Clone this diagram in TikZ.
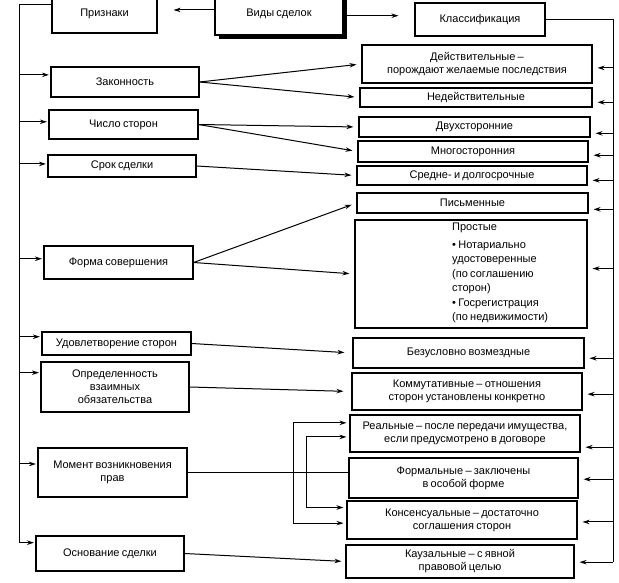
\documentclass[tikz,border=0pt]{standalone}
\usepackage{fontspec}
\setmainfont{Liberation Sans}[WordSpace=0.75]
\usetikzlibrary{arrows.meta,calc}
\begin{document}
\begin{tikzpicture}[x=1pt,y=-1pt,
  box/.style={draw, line width=1.1pt, inner sep=1pt, align=center,
    font=\fontsize{11}{13}\selectfont},
  txt/.style={inner sep=0pt, align=left, font=\fontsize{11}{14.5}\selectfont},
  ln/.style={line width=1pt},
  arr/.style={line width=1pt, -{Stealth[length=7pt,width=4.5pt]}, shorten >=5pt}]
\useasboundingbox (0,0) rectangle (619,583);

% top row
\node[box, minimum width=105pt, minimum height=39pt] (prizn) at (104.5,13.5) {Признаки};
\node[box, minimum width=128pt, minimum height=43pt] (vidy) at (279,13.5) {Виды сделок};
\node[box, minimum width=130pt, minimum height=33pt] (klass) at (480,19.5) {Классификация};
\draw[line width=3pt] ($(vidy.north east)+(1.5,5)$) -- ($(vidy.south east)+(1.5,1.5)$) -- ($(vidy.south west)+(5,1.5)$);

% left column
\node[box, minimum width=148pt, minimum height=30pt] (zak) at (125,82) {Законность};
\node[box, minimum width=149pt, minimum height=29pt] (chislo) at (123.5,124.5) {Число сторон};
\node[box, minimum width=148pt, minimum height=22pt] (srok) at (122,166) {Срок сделки};
\node[box, minimum width=149pt, minimum height=33pt] (forma) at (118.5,262.5) {Форма совершения};
\node[box, minimum width=149pt, minimum height=23pt] (udov) at (116.5,343.5) {Удовлетворение сторон};
\node[box, minimum width=148pt, minimum height=50pt] (opred) at (115,387) {Определенность\\взаимных\\обязательства};
\node[box, minimum width=149pt, minimum height=49pt] (moment) at (112.5,472.5) {Момент возникновения\\прав};
\node[box, minimum width=148pt, minimum height=35pt] (osnov) at (110,553.5) {Основание сделки};

% right column
\node[box, minimum width=230pt, minimum height=38pt] (deyst) at (477,64) {Действительные –\\порождают желаемые последствия};
\node[box, minimum width=232pt, minimum height=19pt] (nedeyst) at (476,97.5) {Недействительные};
\node[box, minimum width=231pt, minimum height=20pt] (dvuh) at (474.5,127) {Двухсторонние};
\node[box, minimum width=230pt, minimum height=21pt] (mnogo) at (473,151.5) {Многосторонния};
\node[box, minimum width=230pt, minimum height=19pt] (sredne) at (472,175.5) {Средне- и долгосрочные};
\node[box, minimum width=231pt, minimum height=20pt] (pism) at (472.5,203) {Письменные};
\node[box, minimum width=232pt, minimum height=108pt] (prost) at (471,274) {};
\node[txt, anchor=north west] (prosttxt) at (452,223) {Простые\\[3pt]• Нотариально\\удостоверенные\\(по соглашению\\сторон)\\• Госрегистрация\\(по недвижимости)};
\node[box, minimum width=231pt, minimum height=30pt] (bezusl) at (468.5,353) {Безусловно возмездные};
\node[box, minimum width=230pt, minimum height=37pt] (kommut) at (467,391.5) {Коммутативные – отношения\\сторон установлены конкретно};
\node[box, minimum width=230pt, minimum height=37pt] (real) at (465,433.5) {Реальные – после передачи имущества,\\если предусмотрено в договоре};
\node[box, minimum width=229pt, minimum height=40pt] (formal) at (463.5,478) {Формальные – заключены\\в особой форме};
\node[box, minimum width=230pt, minimum height=38pt] (konsens) at (462,520) {Консенсуальные – достаточно\\соглашения сторон};
\node[box, minimum width=228pt, minimum height=33pt] (kauz) at (460,561.5) {Каузальные – с явной\\правовой целью};

% top arrows
\coordinate (v1) at ($(vidy.north west)!0.42!(vidy.south west)$);
\coordinate (v2) at ($(vidy.north east)!0.55!(vidy.south east)$);
\draw[arr, shorten >=16pt] (v1) -- (prizn.east |- v1);
\draw[arr, shorten >=16pt] (v2) -- (klass.west |- v2);

% left bus
\coordinate (lbus) at (19,0);
\coordinate (p0) at ($(prizn.north west)!0.28!(prizn.south west)$);
\foreach \n/\f in {zak/0.27, chislo/0.41, srok/0.41, forma/0.39, udov/0.22, opred/0.22, moment/0.33, osnov/0.2}
  {\coordinate (t-\n) at ($(\n.north west)!\f!(\n.south west)$);
   \draw[arr, shorten >=1.5pt] (lbus |- t-\n) -- (t-\n);}
\draw[ln] (p0) -- (lbus |- p0) -- (lbus |- t-osnov);

% right bus
\coordinate (rbus) at (613,0);
\foreach \n/\f in {deyst/0.6, nedeyst/0.74, dvuh/0.8, mnogo/0.67, sredne/0.74, pism/0.8, prost/0.45, bezusl/0.67, kommut/0.57, real/0.86, formal/0.53, konsens/0.55, kauz/0.52}
  {\coordinate (r-\n) at ($(\n.north east)!\f!(\n.south east)$);
   \draw[arr] (rbus |- r-\n) -- (r-\n);}
\draw[ln] (klass.east) -- (rbus |- klass.east) -- (rbus |- r-kauz);

% left to right
\draw[arr] (zak.east) -- (deyst.west);
\draw[arr] (zak.east) -- (nedeyst.west);
\draw[arr] (chislo.east) -- (dvuh.west);
\draw[arr] (chislo.east) -- (mnogo.west);
\draw[arr] (srok.east) -- (sredne.west);
\draw[arr] (forma.east) -- (pism.west);
\draw[arr] (forma.east) -- (prost.west);
\draw[arr, shorten >=8pt] (udov.east) -- (bezusl.west);
\draw[arr, shorten >=8pt] (opred.east) -- (kommut.west);
\draw[arr, shorten >=4pt] (osnov.east) -- (kauz.west);

% moment brackets
\coordinate (ob) at (293,0);
\coordinate (ib) at (306,0);
\coordinate (ra) at ($(real.north west)!0.22!(real.south west)$);
\coordinate (rb) at ($(real.north west)!0.59!(real.south west)$);
\coordinate (ka) at ($(konsens.north west)!0.18!(konsens.south west)$);
\coordinate (kb) at ($(konsens.north west)!0.58!(konsens.south west)$);
\draw[ln] (moment.east) -- (formal.west |- moment.east);
\draw[ln] (ob |- ra) -- (ob |- kb);
\draw[ln] (ib |- rb) -- (ib |- ka);
\draw[arr, shorten >=3pt] (ob |- ra) -- (ra);
\draw[arr, shorten >=3pt] (ib |- rb) -- (rb);
\draw[arr, shorten >=3pt] (ib |- ka) -- (ka);
\draw[arr, shorten >=3pt] (ob |- kb) -- (kb);
\end{tikzpicture}
\end{document}
